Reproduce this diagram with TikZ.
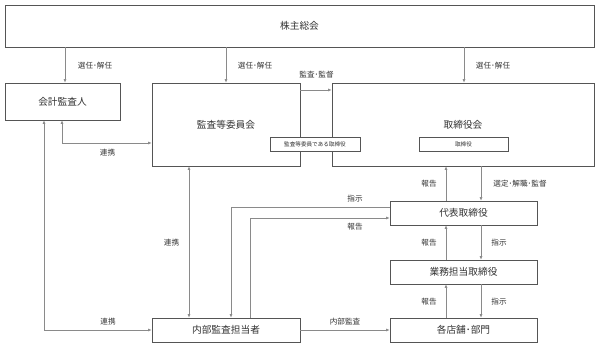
\documentclass[tikz,border=0pt]{standalone}
\usepackage{fontspec}
\setmainfont{Noto Sans CJK JP}
\usetikzlibrary{arrows.meta,calc}
\definecolor{boxc}{HTML}{555555}
\definecolor{linec}{HTML}{8A8A8A}
\definecolor{txtc}{HTML}{333333}
\begin{document}
\begin{tikzpicture}[x=1pt,y=-1pt,
  box/.style={draw=boxc, line width=0.7pt, fill=white, inner sep=0pt, text=txtc, font=\fontsize{9.7}{10}\selectfont},
  smallbox/.style={draw=boxc, line width=0.6pt, fill=white, inner sep=0pt, text=txtc, font=\fontsize{5.6}{6}\selectfont},
  lbl/.style={text=txtc, font=\fontsize{7.6}{8}\selectfont, inner sep=0pt},
  arr/.style={draw=linec, line width=0.6pt, -{Latex[length=3.5pt,width=3pt]}},
  barr/.style={draw=linec, line width=0.6pt, {Latex[length=3.5pt,width=3pt]}-{Latex[length=3.5pt,width=3pt]}}]
\useasboundingbox (0,0) rectangle (599,347);
% boxes
\node[box, minimum width=589pt, minimum height=42pt] (kabu) at (299.5,26) {株主総会};
\node[box, minimum width=115pt, minimum height=37pt] (kaikei) at (62.5,101.5) {会計監査人};
\node[box, minimum width=148pt, minimum height=83pt] (kansa) at (226,124.5) {監査等委員会};
\node[box, minimum width=262pt, minimum height=83pt] (tori) at (463,124.5) {取締役会};
\node[smallbox, minimum width=90pt, minimum height=14pt] (in1) at (315,144) {監査等委員である取締役};
\node[smallbox, minimum width=89pt, minimum height=14pt] (in2) at (463.5,144) {取締役};
\node[box, minimum width=148pt, minimum height=24pt] (naibu) at (226,330) {内部監査担当者};
\node[box, minimum width=147pt, minimum height=24pt] (daihyo) at (463.5,213) {代表取締役};
\node[box, minimum width=147pt, minimum height=24pt] (gyomu) at (463.5,272) {業務担当取締役};
\node[box, minimum width=147pt, minimum height=24pt] (kaku) at (463.5,330) {各店舗･部門};
% helper coordinates
\coordinate (x44) at (44,0);
\coordinate (x62) at (62,0);
\coordinate (x65) at (65,0);
\coordinate (x189) at (189,0);
\coordinate (x226) at (226,0);
\coordinate (x231) at (231,0);
\coordinate (x250) at (250,0);
\coordinate (x446) at (446,0);
\coordinate (x464) at (464,0);
\coordinate (x481) at (481,0);
\coordinate (y90) at (0,90);
\coordinate (y143) at (0,143);
\coordinate (y207) at (0,207);
\coordinate (y218) at (0,218);
% connectors
\draw[arr] (kabu.south -| x65) -- (kaikei.north -| x65);
\draw[arr] (kabu.south -| x226) -- (kansa.north -| x226);
\draw[arr] (kabu.south -| x464) -- (tori.north -| x464);
\draw[arr] (kansa.east |- y90) -- (tori.west |- y90);
\draw[barr] (kaikei.south -| x62) |- (kansa.west |- y143);
\draw[barr] (kaikei.south -| x44) |- (naibu.west);
\draw[barr] (kansa.south -| x189) -- (naibu.north -| x189);
\draw[arr] (daihyo.west |- y207) -| (naibu.north -| x231);
\draw[arr] (naibu.north -| x250) |- (daihyo.west |- y218);
\draw[arr] (daihyo.north -| x446) -- (tori.south -| x446);
\draw[arr] (tori.south -| x481) -- (daihyo.north -| x481);
\draw[arr] (gyomu.north -| x446) -- (daihyo.south -| x446);
\draw[arr] (daihyo.south -| x481) -- (gyomu.north -| x481);
\draw[arr] (kaku.north -| x446) -- (gyomu.south -| x446);
\draw[arr] (gyomu.south -| x481) -- (kaku.north -| x481);
\draw[arr] (naibu.east) -- (kaku.west);
% labels
\node[lbl] (l1) at (95,66) {選任･解任};
\node[lbl] (l2) at (255,66) {選任･解任};
\node[lbl] (l3) at (493,66) {選任･解任};
\node[lbl] (l4) at (316.5,75) {監査･監督};
\node[lbl] (l5) at (107.5,153) {連携};
\node[lbl] (l6) at (171.5,243) {連携};
\node[lbl] (l7) at (108,322) {連携};
\node[lbl] (l8) at (355,199) {指示};
\node[lbl] (l9) at (355,227) {報告};
\node[lbl] (l10) at (429,184) {報告};
\node[lbl] (l11) at (520,184) {選定･解職･監督};
\node[lbl] (l12) at (429,243) {報告};
\node[lbl] (l13) at (499,243) {指示};
\node[lbl] (l14) at (429,302) {報告};
\node[lbl] (l15) at (499,302) {指示};
\node[lbl] (l16) at (345,322) {内部監査};
\end{tikzpicture}
\end{document}
